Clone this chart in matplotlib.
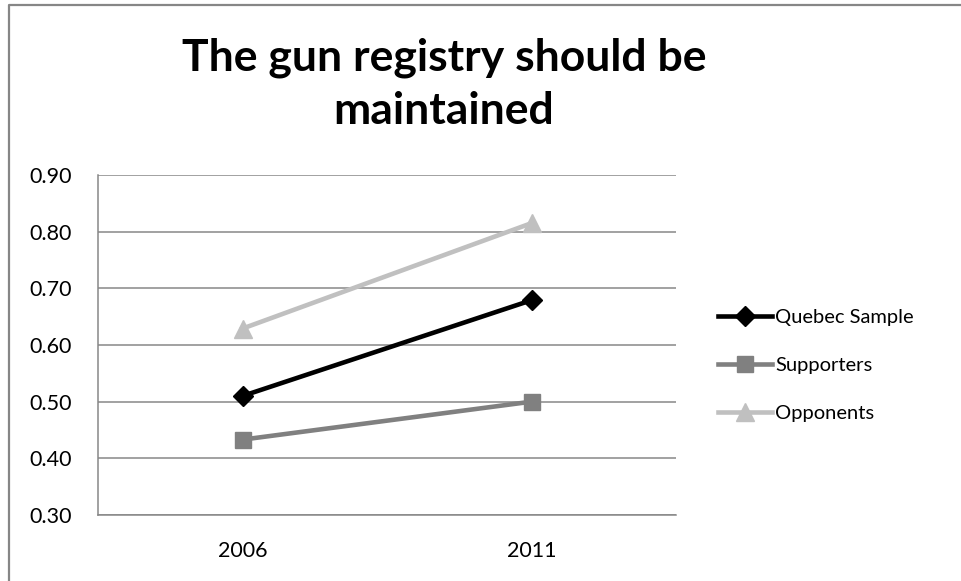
import matplotlib
matplotlib.use("Agg")
import matplotlib.pyplot as plt
from matplotlib.lines import Line2D

years = ["2006", "2011"]
quebec_sample = [0.51, 0.679]
supporters = [0.433, 0.50]
opponents = [0.629, 0.815]
y_ticks = [0.30, 0.40, 0.50, 0.60, 0.70, 0.80, 0.90]

plt.rcParams["font.family"] = ["Lato", "DejaVu Sans"]

W, H = 961, 581
fig = plt.figure(figsize=(W / 100, H / 100), dpi=100)
ax = fig.add_axes([98 / W, 1 - 515 / H, (676 - 98) / W, (515 - 175) / H])

grid_c = "#878787"
x = [0.5, 1.5]
ax.plot(x, quebec_sample, color="black", lw=3.3, marker="D", ms=10,
        label="Quebec Sample", zorder=5)
ax.plot(x, supporters, color="#808080", lw=3.3, marker="s", ms=11,
        label="Supporters", zorder=4)
ax.plot(x, opponents, color="#c0c0c0", lw=3.3, marker="^", ms=13,
        label="Opponents", zorder=3)

ax.set_xlim(0, 2)
ax.set_ylim(0.30, 0.90)
ax.set_xticks(x)
ax.set_xticklabels(years)
ax.set_yticks(y_ticks)
ax.set_yticklabels([f"{v:.2f}" for v in y_ticks])
ax.tick_params(axis="y", length=0, pad=19, labelsize=15.5)
ax.tick_params(axis="x", length=0, pad=19, labelsize=15.5)
ax.yaxis.grid(True, color=grid_c, lw=1.1)
ax.set_axisbelow(True)
for side in ["top", "right"]:
    ax.spines[side].set_visible(False)
for side in ["left", "bottom"]:
    ax.spines[side].set_color(grid_c)
    ax.spines[side].set_linewidth(1.1)

leg = fig.legend(loc="upper left", bbox_to_anchor=(710 / W, 1 - 301 / H),
                 frameon=False, fontsize=14.5, handlelength=2.7,
                 handletextpad=0.15, labelspacing=1.52, borderaxespad=0)

fig.text(444 / W, 1 - 84 / H, "The gun registry should be\nmaintained",
         ha="center", va="center", fontsize=32, fontweight="bold",
         linespacing=1.4)

# outer chart border (top and left edges)
fig.add_artist(Line2D([8.5 / W, 8.5 / W, 1.0], [0.0, 1 - 4.5 / H, 1 - 4.5 / H],
                      transform=fig.transFigure, color="#868686", lw=1.6))

fig.savefig("out.png", dpi=100)
